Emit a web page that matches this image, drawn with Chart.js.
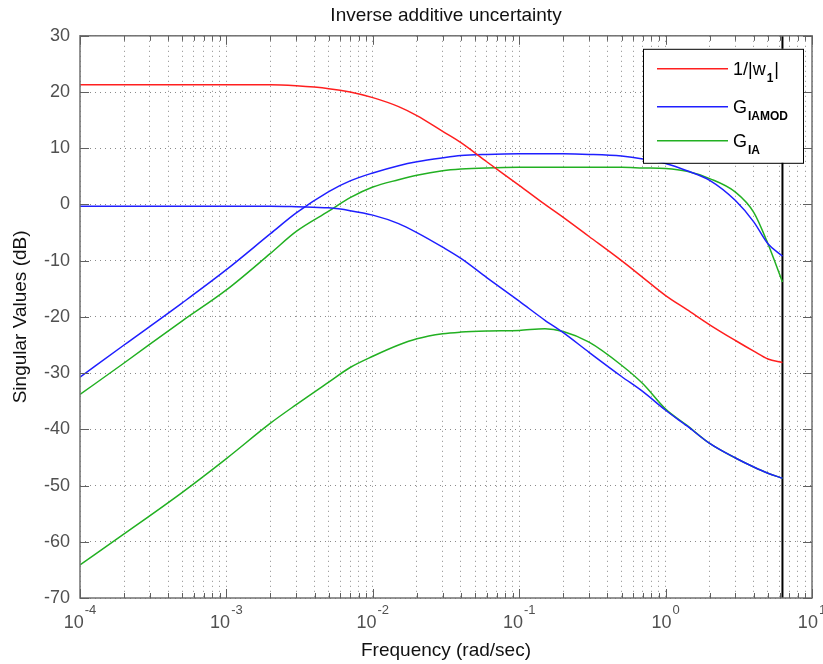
<!DOCTYPE html>
<html>
<head>
<meta charset="utf-8">
<script src="https://cdn.jsdelivr.net/npm/chart.js@4.4.1/dist/chart.umd.min.js"></script>
<style>
  html, body { margin: 0; padding: 0; background: #fff; }
</style>
</head>
<body>
<canvas id="svChart" width="823" height="664"></canvas>
<script>
// --- data (frequency in rad/sec, values in dB) ---
const freqs      = [1e-4, 2e-4, 5e-4, 1e-3, 2e-3, 3e-3, 5e-3, 7e-3, 0.01, 0.015, 0.02, 0.03, 0.04, 0.06, 0.1, 0.15, 0.2, 0.3, 0.5, 0.7, 1, 1.4, 2, 3, 4, 5, 6.2832];
const invW1      = [21.3, 21.3, 21.3, 21.3, 21.3, 21.1, 20.6, 20.0, 19.0, 17.4, 15.8, 13.0, 11.0, 7.6, 3.4, 0.0, -2.3, -5.7, -10.0, -13.0, -16.2, -18.7, -21.4, -24.2, -26.1, -27.5, -28.1];
const gIamodHigh = [-30.7, -25.0, -17.5, -11.6, -5.2, -1.5, 2.3, 4.2, 5.6, 6.9, 7.6, 8.3, 8.7, 8.9, 9.0, 9.0, 9.0, 8.9, 8.6, 8.1, 7.3, 6.0, 4.3, 0.7, -3.1, -7.0, -9.2];
const gIamodLow  = [-0.3, -0.3, -0.3, -0.3, -0.3, -0.4, -0.6, -1.1, -1.9, -3.4, -5.0, -7.6, -9.6, -13.0, -17.2, -20.6, -22.8, -26.3, -30.6, -33.3, -36.6, -39.4, -42.5, -45.1, -46.7, -47.8, -48.7];
const gIaHigh    = [-33.8, -28.2, -20.7, -15.2, -8.7, -4.8, -1.2, 1.2, 3.1, 4.4, 5.2, 6.0, 6.3, 6.5, 6.6, 6.6, 6.6, 6.6, 6.6, 6.5, 6.4, 5.9, 4.6, 2.2, -1.4, -7.0, -13.8];
const gIaLow     = [-64.1, -58.6, -51.2, -45.2, -38.9, -35.6, -31.6, -29.0, -27.0, -25.0, -23.9, -23.0, -22.7, -22.5, -22.4, -22.1, -22.6, -24.5, -28.6, -31.9, -36.4, -39.3, -42.5, -45.1, -46.7, -47.8, -48.7];

const nyquistFreq = 2 * Math.PI;
const xMin = 1e-4, xMax = 10;
const yMin = -70, yMax = 30, yStep = 10;
const xDecadeExps = ['-4', '-3', '-2', '-1', '0', '1'];
const legendItems = [
    { main: '1/|w', sub: '1', tail: '|' },
    { main: 'G', sub: 'IAMOD', tail: '' },
    { main: 'G', sub: 'IA', tail: '' }
];

const RED = '#ff1f1f';
const BLUE = '#1f1fff';
const GREEN = '#22b022';
const FONT = '"Liberation Sans", Arial, sans-serif';
const TICK_COLOR = '#505050';

const toPoints = (vals) => freqs.map((f, i) => ({ x: f, y: vals[i] }));

function curve(label, vals, color, legendIndex) {
    return {
        label,
        data: toPoints(vals),
        borderColor: color,
        borderWidth: 1.5,
        pointRadius: 0,
        cubicInterpolationMode: 'monotone',
        legendIndex
    };
}

// MATLAB-ish box, inward ticks, superscript decade labels and legend
const matlabAxes = {
    id: 'matlabAxes',
    afterDraw(chart) {
        const { ctx, chartArea: a, scales: { x, y } } = chart;
        ctx.save();

        // box
        ctx.strokeStyle = '#707070';
        ctx.lineWidth = 1.5;
        ctx.strokeRect(a.left, a.top, a.right - a.left, a.bottom - a.top);

        // inward ticks
        ctx.lineWidth = 1;
        ctx.strokeStyle = '#606060';
        ctx.beginPath();
        x.ticks.forEach(t => {
            const px = Math.round(x.getPixelForValue(t.value)) + 0.5;
            const len = t.major ? 9 : 5;
            ctx.moveTo(px, a.bottom); ctx.lineTo(px, a.bottom - len);
            ctx.moveTo(px, a.top); ctx.lineTo(px, a.top + len);
        });
        y.ticks.forEach(t => {
            const py = Math.round(y.getPixelForValue(t.value)) + 0.5;
            ctx.moveTo(a.left, py); ctx.lineTo(a.left + 9, py);
            ctx.moveTo(a.right, py); ctx.lineTo(a.right - 9, py);
        });
        ctx.stroke();

        // decade labels 10^k
        ctx.fillStyle = TICK_COLOR;
        ctx.textBaseline = 'alphabetic';
        ctx.textAlign = 'left';
        xDecadeExps.forEach(e => {
            const px = x.getPixelForValue(Math.pow(10, Number(e)));
            ctx.font = '18px ' + FONT;
            const wBase = ctx.measureText('10').width;
            ctx.font = '13px ' + FONT;
            const wExp = ctx.measureText(e).width;
            const start = px - (wBase + wExp + 1) / 2;
            ctx.font = '18px ' + FONT;
            ctx.fillText('10', start, a.bottom + 30);
            ctx.font = '13px ' + FONT;
            ctx.fillText(e, start + wBase + 1, a.bottom + 16);
        });

        // legend
        const bx = a.right - 169, by = a.top + 13, bw = 160, bh = 114;
        ctx.fillStyle = '#fff';
        ctx.fillRect(bx, by, bw, bh);
        ctx.strokeStyle = '#000';
        ctx.lineWidth = 1;
        ctx.strokeRect(bx + 0.5, by + 0.5, bw, bh);
        const rowY = [20, 58, 92];
        legendItems.forEach((item, i) => {
            const ds = chart.data.datasets.find(d => d.legendIndex === i);
            const ly = by + rowY[i];
            ctx.strokeStyle = ds.borderColor;
            ctx.lineWidth = 1.5;
            ctx.beginPath();
            ctx.moveTo(bx + 14, ly); ctx.lineTo(bx + 85, ly);
            ctx.stroke();
            ctx.fillStyle = '#000';
            let tx = bx + 90;
            ctx.font = '18px ' + FONT;
            ctx.fillText(item.main, tx, ly + 6);
            tx += ctx.measureText(item.main).width + 1;
            ctx.font = 'bold 12px ' + FONT;
            ctx.fillText(item.sub, tx, ly + 13);
            tx += ctx.measureText(item.sub).width + 1;
            if (item.tail) {
                ctx.font = '18px ' + FONT;
                ctx.fillText(item.tail, tx, ly + 6);
            }
        });
        ctx.restore();
    }
};

const ctx = document.getElementById('svChart').getContext('2d');
new Chart(ctx, {
    type: 'line',
    data: {
        datasets: [
            curve('1/|w1|', invW1, RED, 0),
            curve('G_IAMOD', gIamodHigh, BLUE, 1),
            curve('G_IAMOD', gIamodLow, BLUE),
            curve('G_IA', gIaHigh, GREEN, 2),
            curve('G_IA', gIaLow, GREEN),
            {
                label: 'Nyquist',
                data: [{ x: nyquistFreq, y: yMin }, { x: nyquistFreq, y: yMax }],
                borderColor: '#000',
                borderWidth: 2,
                pointRadius: 0
            }
        ]
    },
    options: {
        responsive: false,
        animation: false,
        layout: { padding: { left: 0, right: 11, top: 0, bottom: 0 } },
        plugins: {
            legend: { display: false },
            tooltip: { enabled: false },
            title: {
                display: true,
                fullSize: false,
                text: 'Inverse additive uncertainty',
                color: '#111',
                font: { family: FONT, size: 19, weight: 'normal' },
                padding: { top: 4, bottom: 9 }
            }
        },
        scales: {
            x: {
                type: 'logarithmic',
                min: xMin,
                max: xMax,
                afterBuildTicks(scale) {
                    const ticks = [];
                    for (let k = -4; k <= 0; k++) {
                        for (let m = 1; m <= 9; m++) {
                            ticks.push({ value: m * Math.pow(10, k), major: m === 1 });
                        }
                    }
                    ticks.push({ value: 10, major: true });
                    scale.ticks = ticks;
                },
                afterFit(scale) { scale.height = 66; },
                ticks: { display: false },
                grid: { color: '#8a8a8a', lineWidth: 1, drawTicks: false },
                border: { display: false, dash: [1, 4] },
                title: {
                    display: true,
                    text: 'Frequency (rad/sec)',
                    color: '#111',
                    font: { family: FONT, size: 19 },
                    padding: { top: 0, bottom: 2 }
                }
            },
            y: {
                type: 'linear',
                min: yMin,
                max: yMax,
                afterFit(scale) { scale.width = 80; },
                ticks: {
                    stepSize: yStep,
                    color: TICK_COLOR,
                    padding: 10,
                    font: { family: FONT, size: 18 }
                },
                grid: { color: '#8a8a8a', lineWidth: 1, drawTicks: false },
                border: { display: false, dash: [1, 4] },
                title: {
                    display: true,
                    text: 'Singular Values (dB)',
                    color: '#111',
                    font: { family: FONT, size: 19 },
                    padding: { top: 9, bottom: 0 }
                }
            }
        }
    },
    plugins: [matlabAxes]
});
</script>
</body>
</html>
